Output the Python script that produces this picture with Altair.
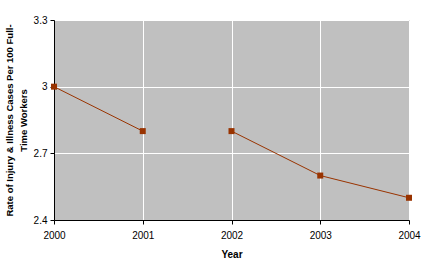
import altair as alt
import pandas as pd

years = [2000, 2001, 2002, 2003, 2004]
rates = [3.0, 2.8, 2.8, 2.6, 2.5]
segments = ["a", "a", "b", "b", "b"]

df = pd.DataFrame({"Year": years, "Rate": rates, "seg": segments})

color = "#993300"

x = alt.X("Year:Q",
          scale=alt.Scale(domain=[2000, 2004], nice=False, zero=False),
          axis=alt.Axis(values=years, format="d", title="Year",
                        labelFontSize=10, labelFont="Liberation Sans", labelColor="#000",
                        titleFontSize=10, titleFont="Liberation Sans", titleFontWeight="bold",
                        titlePadding=9, labelPadding=6,
                        tickSize=4, tickColor="#000", domainColor="#000",
                        gridColor="white", gridWidth=1, labelFlush=False))
y = alt.Y("Rate:Q",
          scale=alt.Scale(domain=[2.4, 3.3], nice=False, zero=False),
          axis=alt.Axis(values=[2.4, 2.7, 3.0, 3.3],
                        labelExpr="format(datum.value, '~g')",
                        title=["Rate of Injury & Illness Cases Per 100 Full-", "Time Workers"],
                        labelFontSize=10, labelFont="Liberation Sans", labelColor="#000",
                        titleFontSize=9.5, titleFont="Liberation Sans", titleFontWeight="bold",
                        titlePadding=5, labelPadding=3, titleLineHeight=14,
                        tickSize=4, tickColor="#000", domainColor="#000",
                        gridColor="white", gridWidth=1))

line = alt.Chart(df).mark_line(color=color, strokeWidth=1).encode(x=x, y=y, detail="seg:N")
pts = alt.Chart(df).mark_point(shape="square", filled=True, color=color, size=36, opacity=1).encode(x=x, y=y)

chart = (line + pts).properties(
    width=355, height=200,
    autosize=alt.AutoSizeParams(type="none"),
    padding={"left": 54, "top": 20, "right": 12, "bottom": 45},
    background="white",
).configure_view(fill="#C0C0C0", stroke="#808080", strokeWidth=1)

chart.save("out.html", embed_options={"renderer": "svg", "actions": False})
